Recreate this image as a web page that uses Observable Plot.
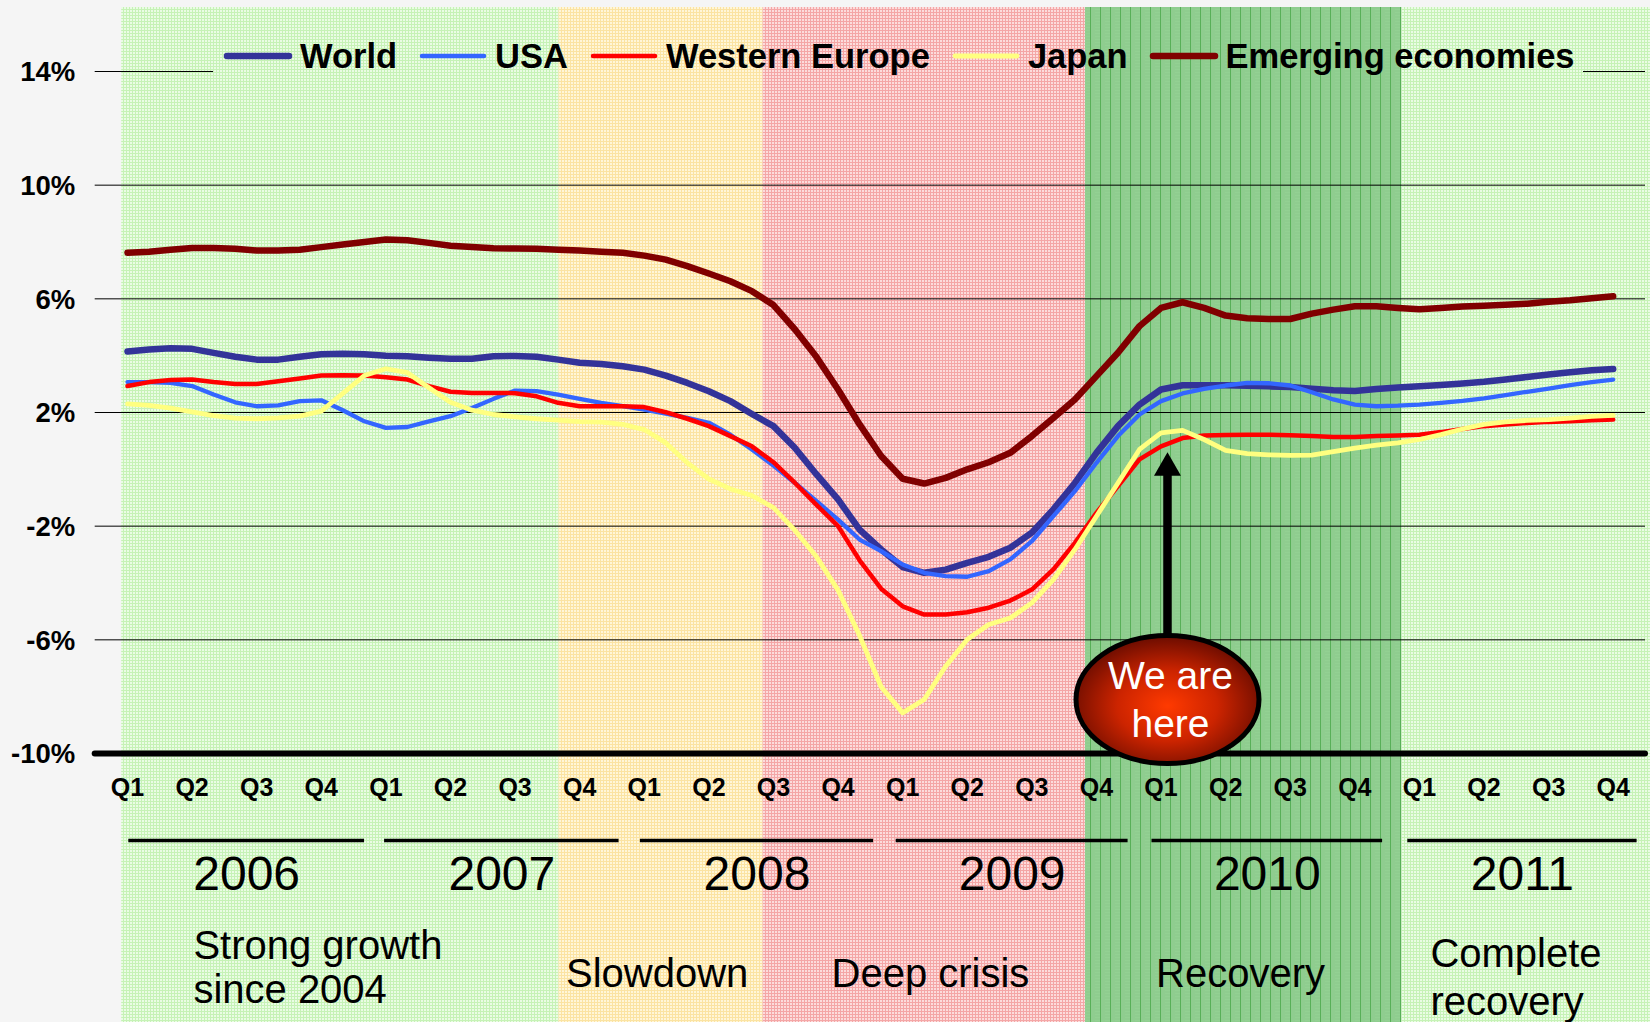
<!DOCTYPE html>
<html>
<head>
<meta charset="utf-8">
<script src="https://cdn.jsdelivr.net/npm/d3@7"></script>
<script src="https://cdn.jsdelivr.net/npm/@observablehq/plot@0.6"></script>
<style>
  html, body { margin: 0; padding: 0; background: #f5f5f5; }
  #wrap { position: relative; width: 1650px; height: 1022px; overflow: hidden;
          font-family: "Liberation Sans", Arial, Helvetica, sans-serif; }
  #wrap > svg.plot { position: absolute; left: 0; top: 0; }
  #legend { position: absolute; left: 223px; top: 38.8px; height: 34.5px; width: max-content;
            display: flex; align-items: center; gap: 21px; white-space: nowrap;
            font-weight: bold; font-size: 34.5px; line-height: 34.5px; color: #000; }
  #legend .item { display: flex; align-items: center; gap: 7px; }
  #legend .item svg { display: block; }
</style>
</head>
<body>
<svg width="0" height="0" style="position:absolute">
  <defs>
    <pattern id="pLightGreen" width="3" height="3" patternUnits="userSpaceOnUse">
      <rect width="3" height="3" fill="#eafce4"/>
      <rect width="3" height="1" fill="#c6f2b6"/>
      <rect width="1" height="3" fill="#c6f2b6"/>
    </pattern>
    <pattern id="pYellow" width="3" height="3" patternUnits="userSpaceOnUse">
      <rect width="3" height="3" fill="#fff6d8"/>
      <rect width="3" height="1" fill="#fbe3a2"/>
      <rect width="1" height="3" fill="#fbe3a2"/>
    </pattern>
    <pattern id="pRed" width="3" height="3" patternUnits="userSpaceOnUse">
      <rect width="3" height="3" fill="#fcdcdc"/>
      <rect width="3" height="1" fill="#f4a6a6"/>
      <rect width="1" height="3" fill="#f4a6a6"/>
    </pattern>
    <pattern id="pDarkGreen" width="10" height="3" patternUnits="userSpaceOnUse">
      <rect width="10" height="3" fill="#8fcd8f"/>
      <rect x="5" width="10" height="1" fill="#93d193"/>
      <rect x="0" width="1" height="3" fill="#58b058"/>
    </pattern>
    <radialGradient id="bubble" cx="50%" cy="55%" r="55%">
      <stop offset="0" stop-color="#ff3a00"/>
      <stop offset="0.5" stop-color="#cc2400"/>
      <stop offset="1" stop-color="#6a0c00"/>
    </radialGradient>
  </defs>
</svg>
<div id="wrap"></div>
<script>
// ---------------- DATA ----------------
const years = [2006, 2007, 2008, 2009, 2010, 2011];
const quarterNames = ["Q1", "Q2", "Q3", "Q4"];
const yTicks = [14, 10, 6, 2, -2, -6, -10];

const seriesNames = ["World", "USA", "Western Europe", "Japan", "Emerging economies"];

// monthly readings (%), Jan 2006 … Oct 2011 (70 points, 3 per quarter)
const world = [4.15,4.22,4.26,4.24,4.10,3.96,3.86,3.86,3.96,4.05,4.07,4.05,
  4.00,3.98,3.93,3.89,3.89,3.98,3.99,3.96,3.86,3.75,3.71,3.63,
  3.51,3.30,3.04,2.75,2.40,1.95,1.52,0.75,-0.18,-1.06,-2.12,-2.82,
  -3.44,-3.64,-3.53,-3.29,-3.08,-2.76,-2.23,-1.41,-0.48,0.58,1.52,2.28,
  2.81,2.96,2.96,2.96,2.94,2.92,2.90,2.84,2.78,2.76,2.83,2.88,
  2.92,2.97,3.02,3.08,3.16,3.25,3.34,3.42,3.49,3.53];
const usa = [3.07,3.07,3.04,2.93,2.63,2.36,2.22,2.25,2.40,2.43,2.08,1.69,
  1.46,1.49,1.69,1.87,2.16,2.48,2.77,2.75,2.63,2.48,2.34,2.22,
  2.10,1.96,1.81,1.64,1.22,0.70,0.13,-0.48,-1.12,-1.77,-2.47,-2.88,
  -3.35,-3.64,-3.76,-3.78,-3.58,-3.17,-2.53,-1.65,-0.77,0.23,1.17,1.93,
  2.40,2.67,2.83,2.95,3.04,3.03,2.95,2.71,2.46,2.28,2.22,2.24,
  2.28,2.34,2.41,2.50,2.61,2.73,2.84,2.96,3.07,3.16];
const westernEurope = [2.93,3.07,3.14,3.16,3.07,3.00,3.00,3.10,3.20,3.30,3.31,3.30,
  3.24,3.16,2.93,2.73,2.69,2.69,2.68,2.57,2.34,2.22,2.22,2.22,
  2.19,2.01,1.78,1.52,1.17,0.81,0.25,-0.48,-1.25,-2.00,-3.20,-4.20,
  -4.82,-5.11,-5.11,-5.03,-4.87,-4.62,-4.23,-3.52,-2.59,-1.53,-0.59,0.35,
  0.81,1.10,1.19,1.21,1.22,1.22,1.20,1.17,1.14,1.14,1.17,1.19,
  1.22,1.31,1.42,1.52,1.58,1.63,1.67,1.69,1.73,1.75];
const japan = [2.30,2.25,2.15,2.02,1.89,1.80,1.78,1.81,1.87,2.05,2.67,3.30,
  3.54,3.40,2.87,2.36,2.08,1.93,1.85,1.78,1.73,1.68,1.66,1.58,
  1.40,0.93,0.23,-0.34,-0.69,-0.92,-1.35,-2.15,-3.08,-4.25,-5.85,-7.65,
  -8.57,-8.10,-6.93,-5.99,-5.46,-5.23,-4.70,-3.88,-2.82,-1.65,-0.48,0.70,
  1.28,1.37,1.05,0.67,0.55,0.51,0.49,0.50,0.62,0.75,0.85,0.93,
  1.05,1.22,1.42,1.58,1.67,1.72,1.75,1.80,1.86,1.90];
const emerging = [7.62,7.66,7.73,7.79,7.79,7.76,7.70,7.70,7.73,7.82,7.91,8.00,
  8.09,8.06,7.97,7.87,7.82,7.78,7.77,7.76,7.73,7.70,7.66,7.62,
  7.52,7.38,7.15,6.89,6.62,6.27,5.78,4.92,3.95,2.81,1.58,0.47,
  -0.33,-0.50,-0.30,0.00,0.25,0.58,1.17,1.81,2.46,3.28,4.10,5.04,
  5.68,5.88,5.68,5.41,5.32,5.29,5.29,5.48,5.62,5.74,5.74,5.68,
  5.63,5.68,5.73,5.76,5.79,5.83,5.90,5.95,6.02,6.09];
const seriesValues = [world, usa, westernEurope, japan, emerging];

const phaseLabels = ["Strong growth\nsince 2004", "Slowdown", "Deep crisis", "Recovery", "Complete\nrecovery"];
const phaseBounds = [-0.09, 6.68, 9.84, 14.83, 19.73, 23.58]; // quarter-index edges of each period

const annotationText = "We are\nhere";
const annotationQuarter = 16.1;  // Q1 2010
const annotationTip = 0.6;       // % level the arrow points at
const annotationCenter = -8.1;   // % level of the bubble

// ---------------- STYLE / LAYOUT ----------------
const FONT = '"Liberation Sans", Arial, Helvetica, sans-serif';
const seriesStyle = [
  {color: "#333399", width: 6.5},
  {color: "#3366ff", width: 4.3},
  {color: "#ff0000", width: 4.5},
  {color: "#ffff80", width: 4.8},
  {color: "#800000", width: 6.5}
];
const phasePatterns = ["pLightGreen", "pYellow", "pRed", "pDarkGreen", "pLightGreen"];
const phaseLabelLayout = [
  {x: 1.02, anchor: "start", dy: 213, lh: 1.1},
  {x: 8.2, anchor: "middle", dy: 221, lh: 1},
  {x: 12.43, anchor: "middle", dy: 221, lh: 1},
  {x: 17.23, anchor: "middle", dy: 221, lh: 1},
  {x: 20.17, anchor: "start", dy: 222.6, lh: 1.2}
];
const xDomain = [-0.5, 23.5], xRange = [94.7, 1645];
const yDomain = [-10, 14], yRange = [753, 71];
const xs = Plot.scale({x: {domain: xDomain, range: xRange}});
const ys = Plot.scale({y: {domain: yDomain, range: yRange}});

// ---------------- TABLES ----------------
const quarters = years.flatMap(y => quarterNames.map(q => ({year: y, q})));
const phases = phaseLabels.map((label, i) => ({label, start: phaseBounds[i], end: phaseBounds[i + 1], i}));
const lineRows = seriesValues.map(vals => vals.map((v, m) => ({q: m / 3, v})));
const annotation = {label: annotationText, q: annotationQuarter, tip: annotationTip, center: annotationCenter};
const headSize = 10; // triangle symbol r
const headCenter = ys.invert(ys.apply(annotation.tip) + headSize * 1.56);

// ---------------- LEGEND (HTML overlay) ----------------
const wrap = document.getElementById("wrap");
const legend = document.createElement("div");
legend.id = "legend";
seriesNames.forEach((name, i) => {
  const item = document.createElement("div");
  item.className = "item";
  const st = seriesStyle[i];
  item.innerHTML = `<svg width="70" height="14"><line x1="4" y1="7" x2="66" y2="7" stroke="${st.color}" stroke-width="${Math.max(st.width, 4.5)}" stroke-linecap="round"/></svg><span>${name}</span>`;
  legend.appendChild(item);
});
wrap.appendChild(legend);
const legLeft = legend.offsetLeft;
const legRight = legend.offsetLeft + legend.offsetWidth;
const topGridSegments = [
  {x1: xDomain[0], x2: xs.invert(legLeft - 10)},
  {x1: xs.invert(legRight + 8), x2: xDomain[1]}
];

// ---------------- ELLIPSE SYMBOL ----------------
const ellipseSymbol = {
  draw(context) {
    const rx = 91.5, ry = 64, k = 0.5522847;
    context.moveTo(rx, 0);
    context.bezierCurveTo(rx, ry * k, rx * k, ry, 0, ry);
    context.bezierCurveTo(-rx * k, ry, -rx, ry * k, -rx, 0);
    context.bezierCurveTo(-rx, -ry * k, -rx * k, -ry, 0, -ry);
    context.bezierCurveTo(rx * k, -ry, rx, -ry * k, rx, 0);
    context.closePath();
  }
};

// ---------------- PLOT ----------------
const chart = Plot.plot({
  width: 1650,
  height: 1022,
  marginTop: 7,
  marginBottom: 0,
  marginLeft: xRange[0],
  marginRight: 1650 - xRange[1],
  x: {domain: xDomain, range: xRange, axis: null},
  y: {domain: yDomain, range: yRange, axis: null},
  style: {background: "transparent", fontFamily: FONT, color: "black", overflow: "hidden"},
  marks: [
    // shaded periods
    ...phases.map(p => Plot.rect([p], {x1: "start", x2: "end", fill: `url(#${phasePatterns[p.i]})`})),
    // gridlines
    Plot.ruleY(yTicks.filter(t => t !== 14 && t !== -10), {stroke: "black", strokeWidth: 1}),
    Plot.ruleY(topGridSegments, {y: () => 14, x1: "x1", x2: "x2", stroke: "black", strokeWidth: 1}),
    // baseline axis
    Plot.ruleY([-10], {stroke: "black", strokeWidth: 6, strokeLinecap: "round"}),
    // series lines
    ...lineRows.map((rows, i) => Plot.line(rows, {
      x: "q", y: "v", stroke: seriesStyle[i].color, strokeWidth: seriesStyle[i].width,
      strokeLinejoin: "round", strokeLinecap: "round"
    })),
    // annotation
    Plot.ruleX([annotation], {x: "q", y1: "center", y2: () => headCenter, stroke: "black", strokeWidth: 8.5}),
    Plot.dot([annotation], {x: "q", y: () => headCenter, symbol: "triangle", r: headSize, fill: "black", stroke: "none"}),
    Plot.dot([annotation], {x: "q", y: "center", symbol: ellipseSymbol, r: 1, fill: "url(#bubble)", stroke: "black", strokeWidth: 5}),
    Plot.text([annotation], {x: "q", y: "center", text: "label", fill: "white", fontSize: 39, lineHeight: 1.25, dx: 3, dy: -2}),
    // y tick labels
    Plot.text(yTicks, {y: d => d, frameAnchor: "left", textAnchor: "end", dx: -20, dy: 1,
      text: d => `${d}%`, fill: "black", fontSize: 27.5, fontWeight: "bold"}),
    // quarter labels
    Plot.text(quarters, {x: (d, i) => i, y: () => -10, dy: 34, text: "q", fill: "black", fontSize: 25, fontWeight: "bold"}),
    // year separators and labels
    Plot.ruleY(years, {x1: (d, i) => i * 3.96 + 0.02, x2: (d, i) => i * 3.94 + 3.67, y: () => -10, dy: 87,
      stroke: "black", strokeWidth: 3.3}),
    Plot.text(years, {x: (d, i) => (i * 3.96 + 0.02 + i * 3.94 + 3.67) / 2, y: () => -10, dy: 121,
      text: d => String(d), fill: "black", fontSize: 48}),
    // period labels
    ...phases.map((p, i) => Plot.text([p], {
      x: () => phaseLabelLayout[i].x, y: () => -10, dy: phaseLabelLayout[i].dy, text: "label",
      textAnchor: phaseLabelLayout[i].anchor, lineHeight: phaseLabelLayout[i].lh,
      fill: "black", fontSize: 40
    }))
  ]
});
chart.classList.add("plot");
wrap.insertBefore(chart, legend);
</script>
</body>
</html>
